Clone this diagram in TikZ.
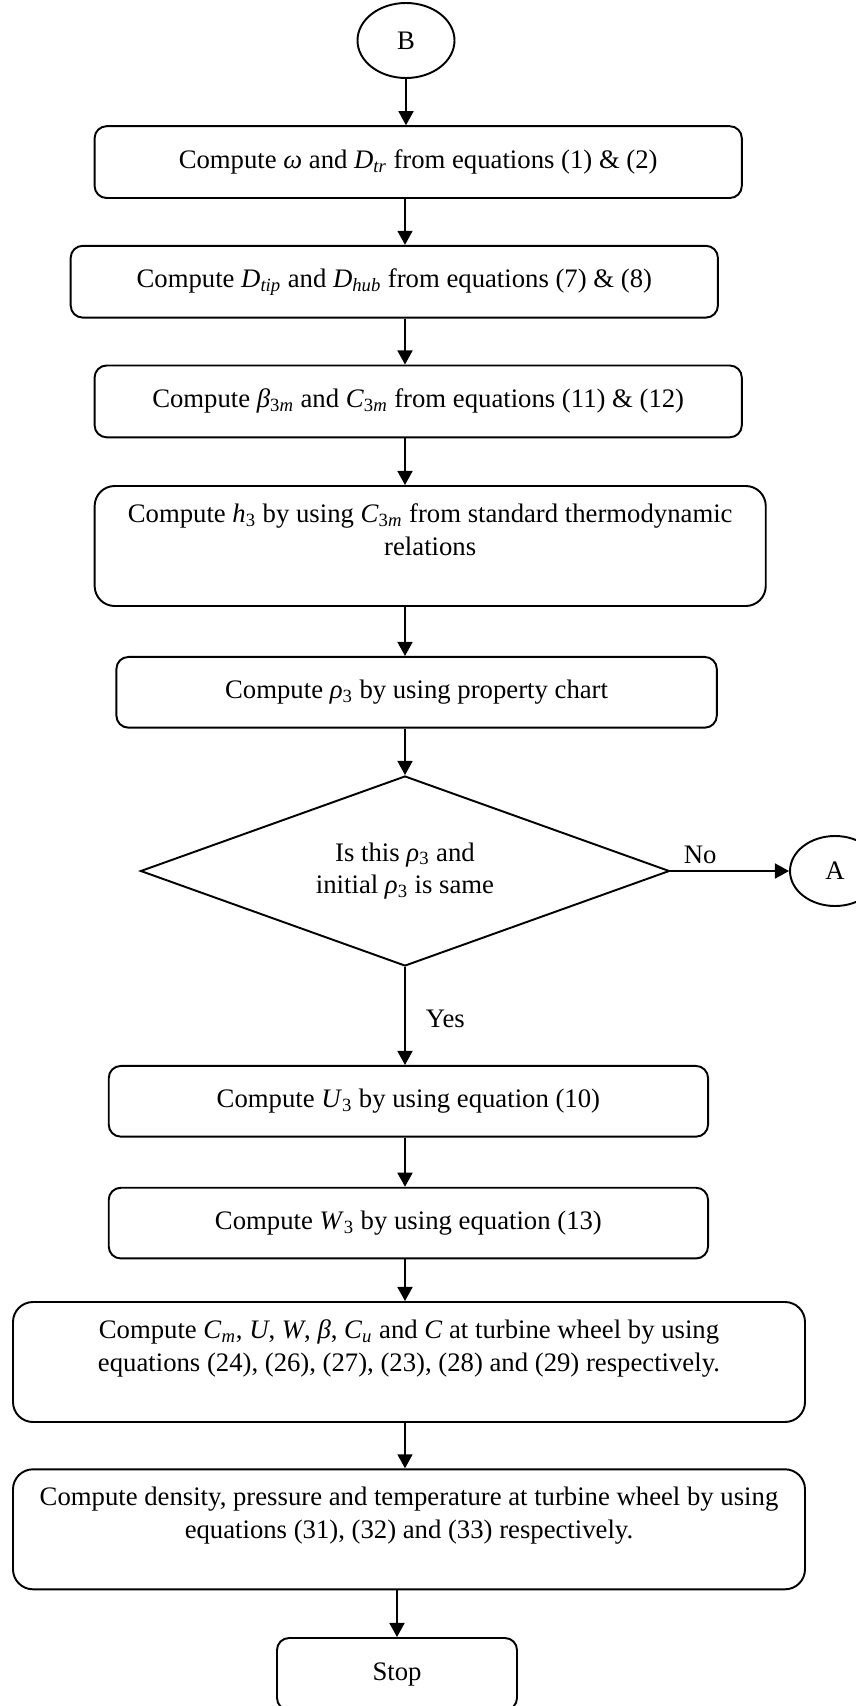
\documentclass[tikz,border=0pt]{standalone}
\usepackage{fontspec}
\setmainfont{Liberation Serif}
\usetikzlibrary{shapes.geometric, positioning, arrows.meta}

% italic symbol with subscript, as in the equation editor
\newcommand{\sym}[2]{\textit{#1}\textsubscript{#2}}

\begin{document}
\begin{tikzpicture}[
    font=\fontsize{15.2}{18.6}\selectfont,
    proc/.style={draw, line width=1.1pt, rounded corners=0.24cm, align=center, inner sep=2pt},
    tallproc/.style={proc, rounded corners=0.4cm, minimum height=2.4cm},
    conn/.style={draw, ellipse, line width=1.1pt, inner sep=0pt},
    dec/.style={draw, diamond, aspect=2.78, line width=1.1pt, inner sep=0pt, align=center},
    arr/.style={-{Triangle[length=8pt, width=8.5pt]}, line width=1.1pt}
]
    \useasboundingbox (0,0) rectangle (17.12,-34.12);

    % Connector in
    \node[conn, minimum width=1.94cm, minimum height=1.5cm] (B) at (8.12,-0.81) {B};

    % Steps
    \node[proc, minimum width=12.944cm, minimum height=1.436cm] (omega) at (8.364,-3.242)
        {Compute \textit{ω} and \sym{D}{\textit{tr}} from equations (1) \& (2)};
    \node[proc, minimum width=12.944cm, minimum height=1.436cm] (diam) at (7.886,-5.634)
        {Compute \sym{D}{\textit{tip}} and \sym{D}{\textit{hub}} from equations (7) \& (8)};
    \node[proc, minimum width=12.944cm, minimum height=1.436cm] (beta) at (8.364,-8.028)
        {Compute \sym{β}{3\textit{m}} and \sym{C}{3\textit{m}} from equations (11) \& (12)};
    \node[tallproc, minimum width=13.422cm] (enth) at (8.604,-10.92)
        {Compute \sym{h}{3} by using \sym{C}{3\textit{m}} from standard thermodynamic\\relations\\ \mbox{}};
    \node[proc, minimum width=12.008cm, minimum height=1.414cm] (rho) at (8.332,-13.846)
        {Compute \sym{ρ}{3} by using property chart};

    % Check
    \node[dec, minimum width=10.58cm, minimum height=3.8cm] (same) at (8.10,-17.42)
        {Is this \sym{ρ}{3} and\\initial \sym{ρ}{3} is same};
    \node[conn, minimum width=1.8cm, minimum height=1.4cm] (A) at (16.7,-17.42) {A};

    \node[proc, minimum width=11.986cm, minimum height=1.414cm] (u3) at (8.168,-22.026)
        {Compute \sym{U}{3} by using equation (10)};
    \node[proc, minimum width=11.986cm, minimum height=1.414cm] (w3) at (8.168,-24.462)
        {Compute \sym{W}{3} by using equation (13)};
    \node[tallproc, minimum width=15.84cm] (wheel) at (8.18,-27.24)
        {Compute \sym{C}{\textit{m}}, \textit{U}, \textit{W}, \textit{β}, \sym{C}{\textit{u}} and \textit{C} at turbine wheel by using\\equations (24), (26), (27), (23), (28) and (29) respectively.\\ \mbox{}};
    \node[tallproc, minimum width=15.84cm] (state) at (8.18,-30.586)
        {Compute density, pressure and temperature at turbine wheel by using\\equations (31), (32) and (33) respectively.\\ \mbox{}};
    \node[proc, minimum width=4.8cm, minimum height=1.44cm] (stop) at (7.94,-33.48) {Stop};

    % Arrows
    \draw[arr] (B) -- (B |- omega.north);
    \draw[arr] (omega.south -| same) -- (diam.north -| same);
    \draw[arr] (diam.south -| same) -- (beta.north -| same);
    \draw[arr] (beta.south -| same) -- (enth.north -| same);
    \draw[arr] (enth.south -| same) -- (rho.north -| same);
    \draw[arr] (rho.south -| same) -- (same.north);
    \draw[arr] (same.east) -- node[pos=0.25, above] (no) {No} (A.west);
    \draw[arr] (same.south) -- node[pos=0.53, right=8pt] (yes) {Yes} (u3.north -| same);
    \draw[arr] (u3.south -| same) -- (w3.north -| same);
    \draw[arr] (w3.south -| same) -- (wheel.north -| same);
    \draw[arr] (wheel.south -| same) -- (state.north -| same);
    \draw[arr] (state.south -| stop) -- (stop.north);
\end{tikzpicture}
\end{document}
